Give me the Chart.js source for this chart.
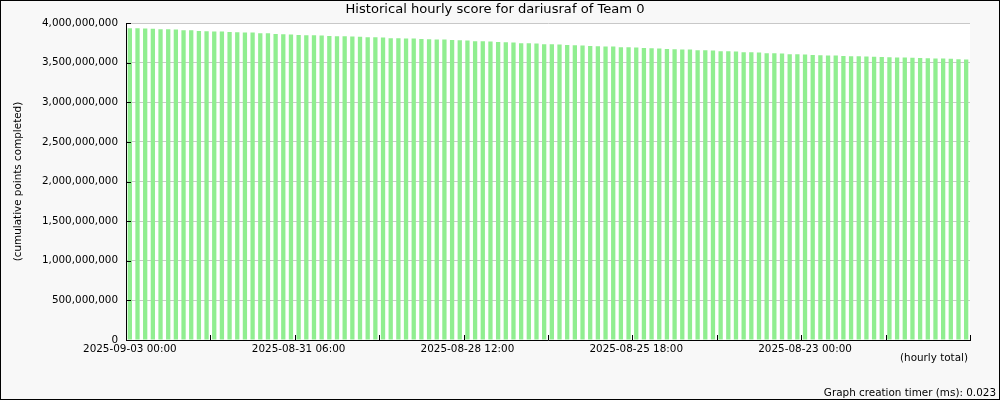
<!DOCTYPE html>
<html><head><meta charset="utf-8">
<script src="https://cdn.jsdelivr.net/npm/chart.js@4"></script>
<style>html,body{margin:0;padding:0;background:#f8f8f8}#wrap{width:1000px;height:400px;position:relative}canvas{display:block}</style>
</head><body><div id="wrap"><canvas id="c" width="1000" height="400"></canvas></div>
<script>
const chartTitle = 'Historical hourly score for dariusraf of Team 0';
const yAxisTitle = '(cumulative points completed)';
const xAxisTitle = '(hourly total)';
const footerText = 'Graph creation timer (ms): 0.023';
const tickLabels = ['2025-09-03 00:00', '2025-08-31 06:00', '2025-08-28 12:00', '2025-08-25 18:00', '2025-08-23 00:00'];
const labelEvery = 22;
const minorTickEvery = 11;
const yMax = 4000000000;
const yStep = 500000000;
// cumulative score per bar, in millions of points
const scoreMillions = [
  3935, 3933, 3931, 3929, 3922, 3920, 3918, 3910, 3908, 3898,
  3896, 3894, 3892, 3885, 3883, 3881, 3879, 3872, 3870, 3860,
  3858, 3856, 3848, 3846, 3844, 3842, 3836, 3834, 3832, 3830,
  3828, 3821, 3819, 3817, 3809, 3807, 3805, 3803, 3797, 3795,
  3793, 3791, 3784, 3782, 3780, 3771, 3769, 3767, 3759, 3757,
  3755, 3746, 3744, 3742, 3733, 3731, 3729, 3721, 3719, 3717,
  3709, 3707, 3705, 3703, 3695, 3693, 3691, 3683, 3681, 3679,
  3671, 3669, 3667, 3665, 3657, 3655, 3653, 3645, 3643, 3641,
  3632, 3630, 3628, 3619, 3617, 3615, 3607, 3605, 3603, 3595,
  3593, 3591, 3589, 3583, 3581, 3579, 3577, 3575, 3570, 3568,
  3566, 3564, 3562, 3557, 3555, 3553, 3551, 3549, 3543, 3541
];
const categories = scoreMillions.map((_, i) => (i % labelEvery === 0 && tickLabels[i / labelEvery]) ? tickLabels[i / labelEvery] : '');
const FONT = "'DejaVu Sans', sans-serif";

const decor = {
  id: 'decor',
  beforeDraw(chart) {
    const {ctx, chartArea: a} = chart;
    ctx.save();
    ctx.fillStyle = '#f8f8f8';
    ctx.fillRect(0, 0, chart.width, chart.height);
    ctx.fillStyle = '#ffffff';
    ctx.fillRect(a.left, a.top, a.right - a.left, a.bottom - a.top);
    ctx.restore();
  },
  afterDraw(chart) {
    const {ctx, chartArea: a, scales} = chart;
    ctx.save();
    ctx.strokeStyle = '#000';
    ctx.lineWidth = 1;
    ctx.beginPath();
    for (let v = 0; v <= yMax; v += yStep) {
      const y = Math.round(scales.y.getPixelForValue(v)) + 0.5;
      ctx.moveTo(a.left, y); ctx.lineTo(a.left + 5, y);
    }
    const n = categories.length;
    const half = (scales.x.getPixelForValue(1) - scales.x.getPixelForValue(0)) / 2;
    for (let i = minorTickEvery; i <= n; i += minorTickEvery) {
      const x = Math.round(scales.x.getPixelForValue(i - 1) + half) + 0.5;
      ctx.moveTo(x, a.bottom); ctx.lineTo(x, a.bottom - 5);
    }
    ctx.stroke();
    ctx.fillStyle = '#000';
    ctx.textBaseline = 'middle';
    ctx.font = '13.1px ' + FONT;
    ctx.textAlign = 'center';
    ctx.fillText(chartTitle, 495, 10);
    ctx.font = '10.4px ' + FONT;
    ctx.textAlign = 'right';
    ctx.fillText(xAxisTitle, 968, 358);
    ctx.fillText(footerText, 996, 393);
    ctx.save();
    ctx.translate(18.5, (a.top + a.bottom) / 2);
    ctx.rotate(-Math.PI / 2);
    ctx.textAlign = 'center';
    ctx.fillText(yAxisTitle, 0, 0);
    ctx.restore();
    ctx.strokeRect(0.5, 0.5, chart.width - 1, chart.height - 1);
    ctx.restore();
  }
};

new Chart(document.getElementById('c'), {
  type: 'bar',
  data: {
    labels: categories,
    datasets: [{
      data: scoreMillions.map(v => v * 1e6),
      backgroundColor: '#90ee90',
      borderWidth: 0,
      categoryPercentage: 1,
      barPercentage: 0.56
    }]
  },
  options: {
    responsive: false,
    devicePixelRatio: 1,
    animation: false,
    layout: {padding: {top: 23, right: 30, bottom: 0, left: 0}},
    plugins: {legend: {display: false}, title: {display: false}, tooltip: {enabled: false}},
    scales: {
      x: {
        grid: {display: false, drawTicks: false},
        border: {display: true, color: '#000', width: 1},
        ticks: {autoSkip: false, maxRotation: 0, minRotation: 0, padding: 3, color: '#000', font: {family: FONT, size: 10.4},
          callback(v, i) { return categories[i]; }},
        afterFit(scale) { scale.height = 60; }
      },
      y: {
        min: 0, max: yMax,
        grid: {color: '#c8c8c8', drawTicks: false},
        border: {display: true, color: '#000', width: 1},
        ticks: {stepSize: yStep, padding: 8, color: '#000', font: {family: FONT, size: 10.4},
          callback(v) { return Number(v).toLocaleString('en-US'); }},
        afterFit(scale) { scale.width = 126; }
      }
    }
  },
  plugins: [decor]
});
</script></body></html>
